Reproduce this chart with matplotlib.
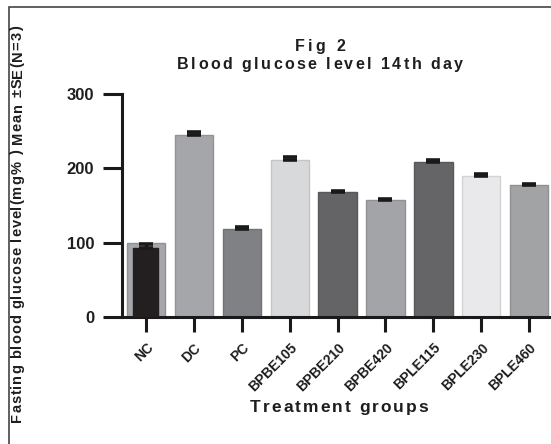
import matplotlib
matplotlib.use("Agg")
import math
import matplotlib.pyplot as plt
from matplotlib.patches import Rectangle
from matplotlib.transforms import IdentityTransform
from matplotlib.font_manager import FontProperties, findfont
from matplotlib.ft2font import FT2Font

plt.rcParams['font.family'] = ['Liberation Sans', 'DejaVu Sans']

groups = ["NC", "DC", "PC", "BPBE105", "BPBE210", "BPBE420", "BPLE115", "BPLE230", "BPLE460"]
means = [99, 245, 118, 211, 168, 157, 208, 190, 177]
se = [0, 3.5, 3.5, 4.5, 1.5, 1.2, 3.5, 2.0, 1.5]
nc_inner_mean = 93
nc_inner_se = 5
bar_colors = ["#a6a7aa", "#a5a6a9", "#808184", "#d8d9db", "#646466",
              "#a3a4a7", "#656567", "#e9e9eb", "#a2a3a5"]
edge_colors = ["#909194", "#929396", "#717275", "#c4c5c7", "#58585a",
               "#909194", "#59595b", "#d3d3d5", "#8f9093"]
yticks = [0, 100, 200, 300]
title_lines = ["Fig 2", "Blood glucose level 14th day"]
xlabel = "Treatment groups"
ylabel = "Fasting blood glucose level(mg% ) Mean \u00b1SE(N=3)"

W, H = 551, 444
DPI = 100
TXT = "#1e1e1e"
fig = plt.figure(figsize=(W / DPI, H / DPI), dpi=DPI)
ax = fig.add_axes([122 / W, (H - 317) / H, (W - 122) / W, (317 - 94) / H])

x = list(range(len(groups)))
ax.bar(x, means, width=0.8, color=bar_colors, edgecolor=edge_colors, linewidth=1.0, zorder=2)
ax.bar([0], [nc_inner_mean], width=0.52, color="#231f20", edgecolor="#231f20", zorder=3)

ax.errorbar(x[1:], means[1:], yerr=[[0] * (len(x) - 1), se[1:]], fmt='none',
            ecolor="#1a1a1a", elinewidth=2.4, capsize=4.8, capthick=2.6, zorder=4)
ax.errorbar([0], [nc_inner_mean], yerr=[[0], [nc_inner_se]], fmt='none',
            ecolor="#1a1a1a", elinewidth=2.4, capsize=4.8, capthick=2.6, zorder=4)

ax.set_xlim(-0.5, (W - 146) / 47.9)
ax.set_ylim(0, 300)
ax.set_yticks(yticks)
ax.set_yticklabels([str(v) for v in yticks], fontsize=12, fontweight='bold', color=TXT)
ax.set_xticks(x)
ax.set_xticklabels(groups, rotation=45, ha='right', va='top', rotation_mode='anchor',
                   fontsize=10, fontweight='bold', color=TXT)
ax.tick_params(axis='y', direction='out', length=14, width=2.2, pad=6, color="#1a1a1a")
ax.tick_params(axis='x', direction='out', length=11, width=2.2, pad=6, color="#1a1a1a")
for s in ['top', 'right']:
    ax.spines[s].set_visible(False)
for s in ['left', 'bottom']:
    ax.spines[s].set_linewidth(2.2)
    ax.spines[s].set_color("#1a1a1a")
ax.spines['left'].set_bounds(0, 300)


def _advances(s, size):
    fp = FontProperties(family='Liberation Sans', weight='bold')
    font = FT2Font(findfont(fp))
    font.set_size(size, DPI)
    out = []
    for c in s:
        g = font.load_char(ord(c))
        out.append(g.linearHoriAdvance / 65536)
    return out


def tracked_text(s, cx, cy, size, width, rotation=0):
    """Letter-spaced text centred at (cx, cy) pixels from top-left, baseline at cy."""
    adv = _advances(s, size)
    n = len(s)
    track = (width - sum(adv)) / max(n - 1, 1)
    th = math.radians(rotation)
    dx, dy = math.cos(th), math.sin(th)
    X0, Y0 = cx, H - cy
    off = -width / 2
    for c, a in zip(s, adv):
        if c != ' ':
            fig.text(X0 + off * dx, Y0 + off * dy, c, transform=IdentityTransform(),
                     rotation=rotation, rotation_mode='anchor', ha='left', va='baseline',
                     fontsize=size, fontweight='bold', color=TXT, family='Liberation Sans')
        off += a + track


tracked_text(title_lines[0], 320, 51, 11.5, 51)
tracked_text(title_lines[1], 320, 69, 11.5, 286)
tracked_text(xlabel, 339, 412, 12.5, 178)
tracked_text(ylabel, 21.5, 224, 10.5, 396, rotation=90)

fig.patches.append(Rectangle((9 / W, -0.1), 1.2, 1 - 7 / H + 0.1, transform=fig.transFigure,
                             fill=False, edgecolor="#444444", linewidth=1.2))

fig.savefig("out.png", dpi=DPI)
